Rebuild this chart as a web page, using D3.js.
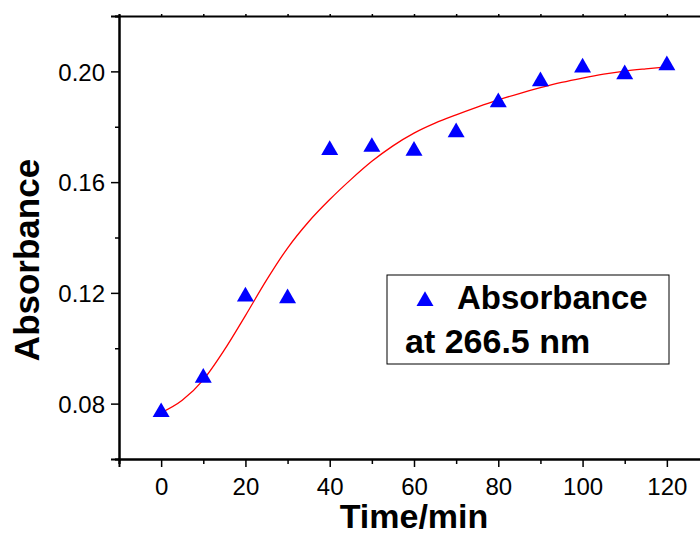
<!DOCTYPE html>
<html>
<head>
<meta charset="utf-8">
<script src="https://d3js.org/d3.v7.min.js"></script>
<style>
  body { margin: 0; background: #fff; }
  svg { display: block; font-family: Arial, "Liberation Sans", sans-serif; }
</style>
</head>
<body>
<div id="chart"></div>
<script>
// measured absorbance at 266.5 nm
const times = [0, 10, 20, 30, 40, 50, 60, 70, 80, 90, 100, 110, 120];
const absorbance = [0.0769, 0.0893, 0.1187, 0.1180, 0.1716, 0.1727, 0.1713, 0.1780, 0.1888, 0.1964, 0.2014, 0.1989, 0.2022];

// fitted curve
const fitTimes = [0, 5, 10, 15, 20, 25, 30, 35, 40, 45, 50, 55, 60, 65, 70, 75, 80, 85, 90, 95, 100, 105, 110, 115, 120];
const fitValues = [0.0767, 0.0812, 0.0886, 0.0994, 0.1118, 0.1246, 0.1362, 0.1457, 0.1537, 0.1609, 0.1675, 0.1731, 0.1777, 0.1813, 0.1843, 0.1871, 0.1897, 0.1920, 0.1941, 0.1960, 0.1976, 0.1990, 0.2001, 0.2009, 0.2016];

const xMajor = [0, 20, 40, 60, 80, 100, 120];
const xMinor = [-10, 10, 30, 50, 70, 90, 110, 130];
const yMajor = [0.08, 0.12, 0.16, 0.20];
const yMinor = [0.06, 0.10, 0.14, 0.18, 0.22];

const width = 700, height = 535;
const plotLeft = 119, plotRight = 709, plotTop = 16, plotBottom = 459;

const svg = d3.select('#chart').append('svg')
  .attr('width', width)
  .attr('height', height);

svg.append('rect').attr('width', width).attr('height', height).attr('fill', '#fff');

const x = d3.scaleLinear().domain([-10, 130]).range([plotLeft, plotRight]);
const y = d3.scaleLinear().domain([0.06, 0.22]).range([plotBottom, plotTop]);

// bottom axis
const bottomAxis = svg.append('g').attr('transform', `translate(0,${plotBottom})`);
bottomAxis.call(d3.axisBottom(x).tickValues(xMajor).tickSize(8).tickPadding(6).tickFormat(d3.format('d')));
bottomAxis.append('g').call(d3.axisBottom(x).tickValues(xMinor).tickSize(5).tickFormat(''));

// left axis
const leftAxis = svg.append('g').attr('transform', `translate(${plotLeft},0)`);
leftAxis.call(d3.axisLeft(y).tickValues(yMajor).tickSize(8).tickPadding(6).tickFormat(d3.format('.2f')));
leftAxis.append('g').call(d3.axisLeft(y).tickValues(yMinor).tickSize(4).tickFormat(''));

// top axis
const topAxis = svg.append('g').attr('transform', `translate(0,${plotTop})`);
topAxis.call(d3.axisTop(x).tickValues(xMajor.concat(xMinor)).tickSize(2).tickFormat(''));

svg.selectAll('.domain').attr('stroke', '#000').attr('stroke-width', 2);
svg.selectAll('.tick line').attr('stroke', '#000').attr('stroke-width', 1.5);
svg.selectAll('.tick text')
  .attr('fill', '#000')
  .style('font-size', '24px')
  .style('font-family', 'Arial, "Liberation Sans", sans-serif');
leftAxis.selectAll('.tick text').attr('dy', '0.36em');
bottomAxis.selectAll('.tick text').attr('dy', '0.9em');

// fitted curve
const line = d3.line()
  .x((d, i) => x(fitTimes[i]))
  .y(d => y(d))
  .curve(d3.curveMonotoneX);

svg.append('path')
  .datum(fitValues)
  .attr('d', line)
  .attr('fill', 'none')
  .attr('stroke', '#ff0000')
  .attr('stroke-width', 1.3);

// data points
const tri = d3.symbol().type(d3.symbolTriangle).size(125);
svg.append('g').selectAll('path')
  .data(absorbance)
  .enter()
  .append('path')
  .attr('d', tri)
  .attr('transform', (d, i) => `translate(${x(times[i])},${y(d)})`)
  .attr('fill', '#0000ff');

// legend
const legend = svg.append('g');
legend.append('rect')
  .attr('x', 387).attr('y', 275)
  .attr('width', 282).attr('height', 89)
  .attr('fill', '#fff')
  .attr('stroke', '#000')
  .attr('stroke-width', 1);
legend.append('path')
  .attr('d', tri)
  .attr('transform', 'translate(425,301)')
  .attr('fill', '#0000ff');
legend.append('text')
  .attr('x', 457).attr('y', 309)
  .attr('font-size', 33).attr('font-weight', 'bold')
  .text('Absorbance');
legend.append('text')
  .attr('x', 405).attr('y', 353)
  .attr('font-size', 34).attr('font-weight', 'bold')
  .text('at 266.5 nm');

// axis titles
svg.append('text')
  .attr('x', 414).attr('y', 528)
  .attr('text-anchor', 'middle')
  .attr('font-size', 34).attr('font-weight', 'bold')
  .text('Time/min');

svg.append('text')
  .attr('transform', 'translate(39,260) rotate(-90)')
  .attr('text-anchor', 'middle')
  .attr('font-size', 35).attr('font-weight', 'bold')
  .text('Absorbance');
</script>
</body>
</html>
